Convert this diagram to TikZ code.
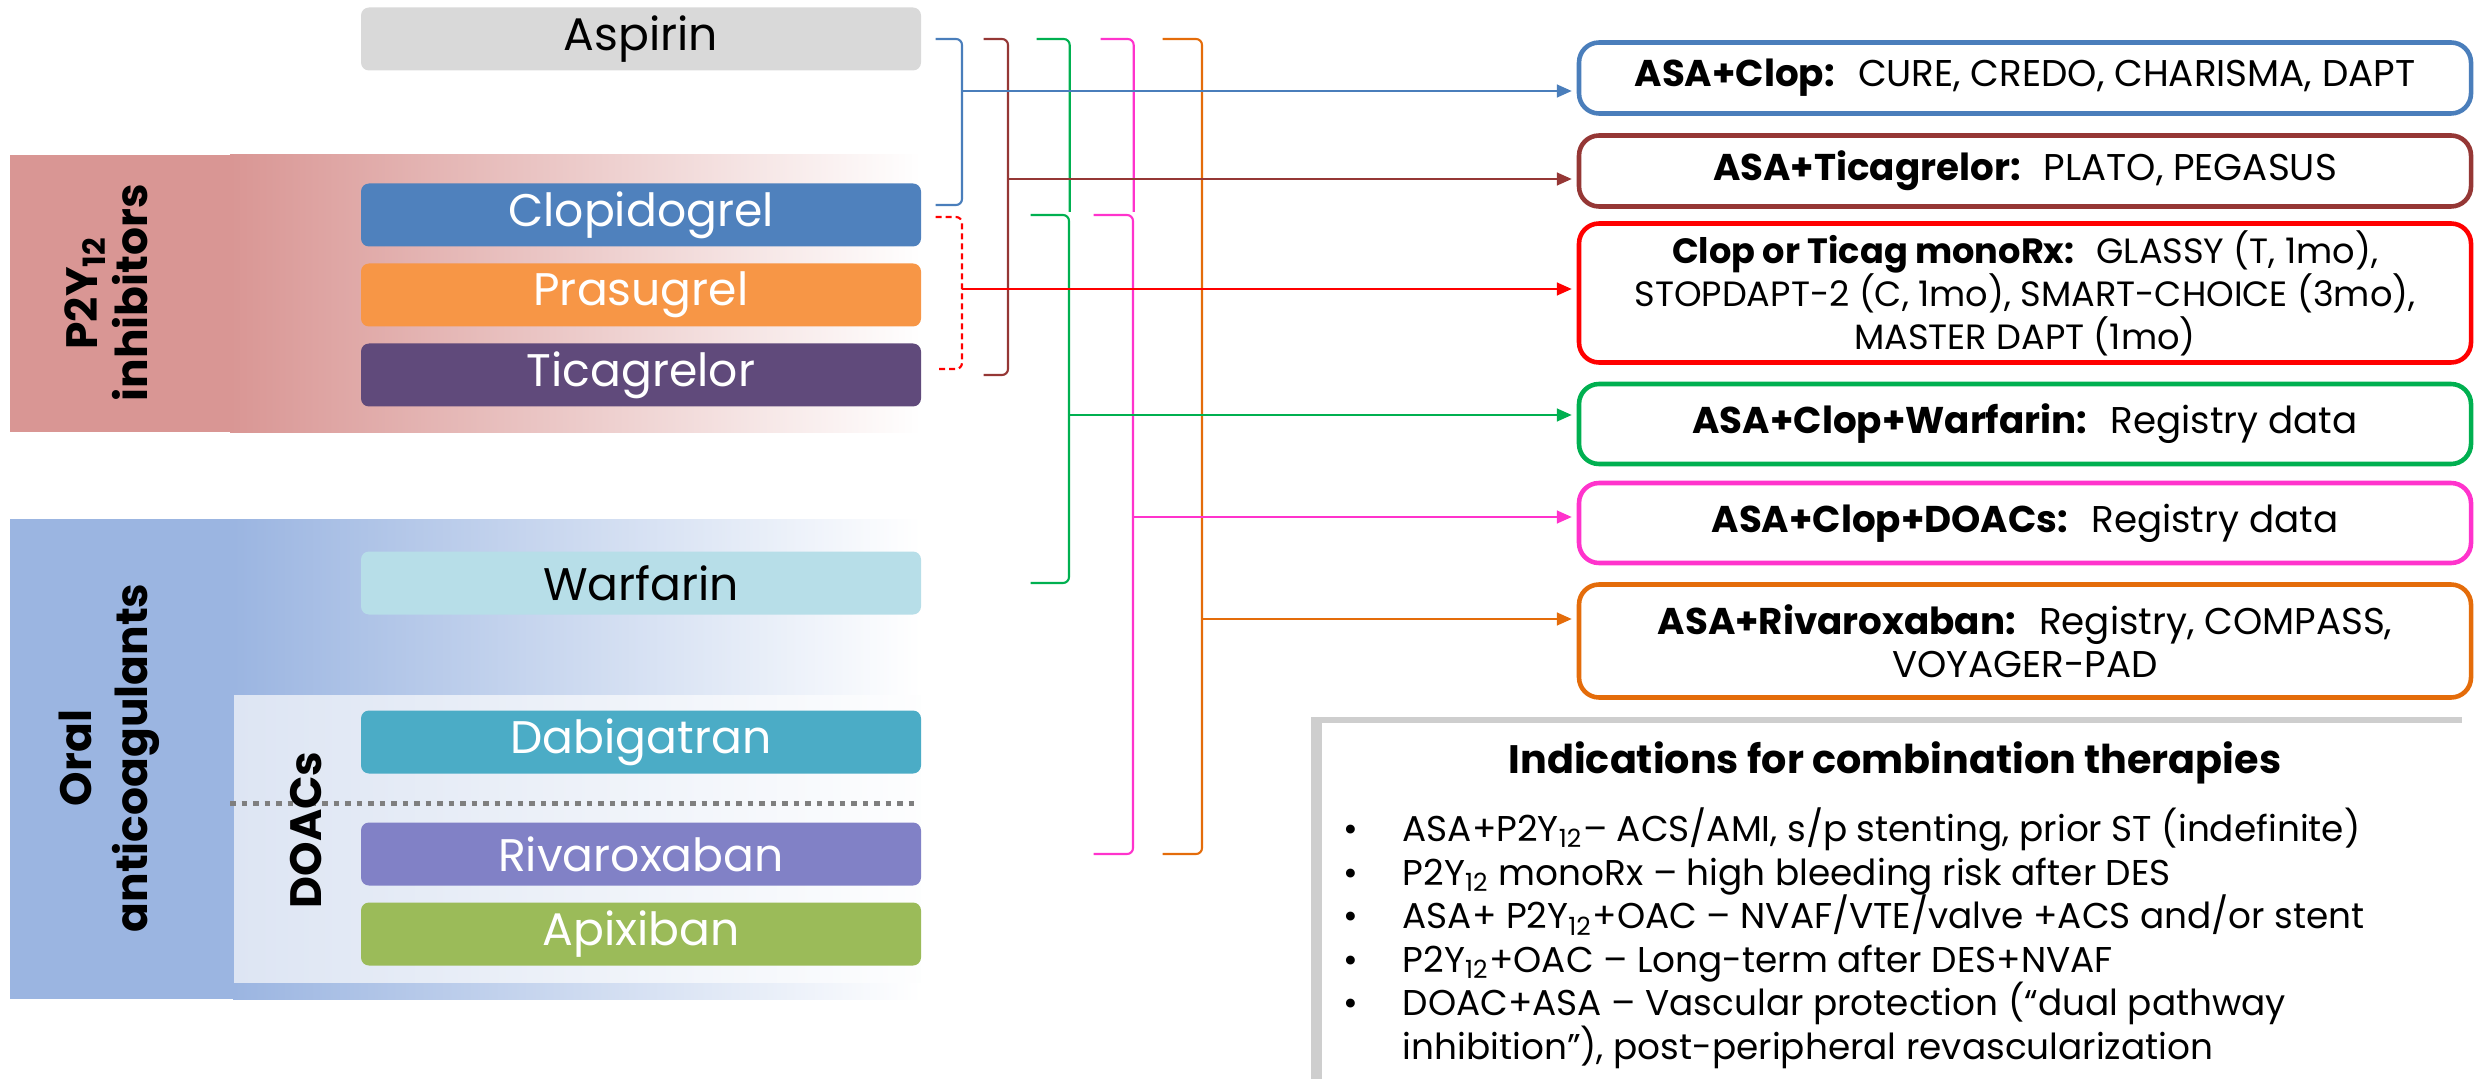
\documentclass[tikz,border=0pt]{standalone}
\usepackage{fontspec}
\setmainfont{Poppins}
\usetikzlibrary{arrows.meta,shadows}

\definecolor{aspc}{HTML}{D9D9D9}
\definecolor{cloc}{HTML}{4F81BD}
\definecolor{prac}{HTML}{F79646}
\definecolor{ticc}{HTML}{604A7B}
\definecolor{warc}{HTML}{B7DEE8}
\definecolor{dabc}{HTML}{4BACC6}
\definecolor{rivc}{HTML}{8181C6}
\definecolor{apic}{HTML}{9BBB59}
\definecolor{p2yband}{HTML}{D99694}
\definecolor{oacband}{HTML}{9BB5E1}
\definecolor{doacband}{HTML}{DDE5F3}
\definecolor{dotgrey}{HTML}{7F7F7F}
\definecolor{cblue}{HTML}{4A7EBB}
\definecolor{cbrown}{HTML}{953735}
\definecolor{cred}{HTML}{FF0000}
\definecolor{cgreen}{HTML}{00B050}
\definecolor{cpink}{HTML}{FF33CC}
\definecolor{corange}{HTML}{E46C0A}

\begin{document}
\begin{tikzpicture}[x=0.1mm, y=-0.1mm,
    drug/.style={rounded corners=0.8mm, minimum width=56mm, minimum height=6.3mm,
      inner sep=0pt, text=white, font=\fontsize{13}{15}\selectfont},
    res/.style={draw, line width=1.3pt, rounded corners=2mm, minimum width=89.2mm,
      inner sep=0pt, align=center, fill=white, font=\fontsize{10.6}{12.2}\selectfont},
    link/.style={line width=0.6pt, rounded corners=0.6mm},
    arr/.style={link, -{Triangle[length=4.2pt,width=3.6pt]}, shorten >=0.5mm},
    vlabel/.style={rotate=90, align=center, font=\fontsize{12.5}{16}\selectfont\bfseries},
    panel/.style={fill=white, drop shadow={shadow xshift=-1.1mm, shadow yshift=0.6mm,
      fill=black!35, opacity=0.55}}]
  \useasboundingbox (0,0) rectangle (2481,1079);

  % Faixas de fundo
  \fill[p2yband] (10,155) rectangle (232,432);
  \shade[left color=p2yband, right color=white] (230,155) rectangle (921,432);
  \fill[oacband] (10,519) rectangle (235,999);
  \shade[left color=oacband, right color=white] (233,519) rectangle (921,999);
  \shade[left color=doacband, right color=white!95!doacband] (234,695) rectangle (921,982);
  \draw[dotgrey, line width=0.5mm, dash pattern=on 0.55mm off 0.6mm] (230,803) -- (918,803);

  \node[vlabel, font=\fontsize{12.5}{14.3}\selectfont\bfseries] (p2y) at (106,293) {P2Y\textsubscript{12}\\inhibitors};
  \node[vlabel] (oac) at (109,758) {Oral\\anticoagulants};
  \node[vlabel] (doac) at (306,830) {DOACs};

  % Farmacos
  \node[drug, fill=aspc, text=black] (asp) at (641,39)  {Aspirin};
  \node[drug, fill=cloc]             (clo) at (641,215) {Clopidogrel};
  \node[drug, fill=prac]             (pra) at (641,295) {Prasugrel};
  \node[drug, fill=ticc]             (tic) at (641,375) {Ticagrelor};
  \node[drug, fill=warc, text=black] (war) at (641,583) {Warfarin};
  \node[drug, fill=dabc]             (dab) at (641,742) {Dabigatran};
  \node[drug, fill=rivc]             (riv) at (641,854) {Rivaroxaban};
  \node[drug, fill=apic]             (api) at (641,934) {Apixiban};

  % Combinacoes
  \node[res, draw=cblue,   minimum height=7.1mm]  (cr1) at (2025,78)  {\textbf{ASA+Clop:}~ CURE, CREDO, CHARISMA, DAPT};
  \node[res, draw=cbrown,  minimum height=7.1mm]  (cr2) at (2025,171) {\textbf{ASA+Ticagrelor:}~ PLATO, PEGASUS};
  \node[res, draw=cred,    minimum height=13.9mm, font=\fontsize{10}{12.2}\selectfont] (cr3) at (2025,293) {\textbf{Clop or Ticag monoRx:}~ GLASSY (T, 1mo),\\STOPDAPT-2 (C, 1mo), SMART-CHOICE (3mo),\\MASTER DAPT (1mo)};
  \node[res, draw=cgreen,  minimum height=8mm]    (cr4) at (2025,424) {\textbf{ASA+Clop+Warfarin:}~ Registry data};
  \node[res, draw=cpink,   minimum height=8mm]    (cr5) at (2025,523) {\textbf{ASA+Clop+DOACs:}~ Registry data};
  \node[res, draw=corange, minimum height=11.3mm] (cr6) at (2025,641) {\textbf{ASA+Rivaroxaban:}~ Registry, COMPASS,\\VOYAGER-PAD};

  % Chaves
  \coordinate (sB)  at (962,91);
  \coordinate (sBr) at (1008,179);
  \coordinate (sR)  at (962,289);
  \coordinate (sG)  at (1069,415);
  \coordinate (sP)  at (1133,517);
  \coordinate (sO)  at (1202,619);

  \draw[link, cblue] ([xshift=1.4mm]asp.east) -| (sB) |- ([shift={(1.4mm,1mm)}]clo.east);
  \draw[link, cbrown] ([xshift=6.2mm]asp.east) -| (sBr) |- ([xshift=6.2mm]tic.east);
  \draw[link, cred, dash pattern=on 0.6mm off 0.4mm] ([shift={(1.4mm,-0.2mm)}]clo.east) -| (sR) |- ([shift={(1.4mm,0.6mm)}]tic.east);
  \draw[link, cgreen] ([xshift=11.5mm]asp.east) -| ([shift={(14.8mm,0.3mm)}]clo.east);
  \draw[link, cgreen] ([xshift=10.9mm]clo.east) -| (sG) |- ([xshift=10.9mm]war.east);
  \draw[link, cpink] ([xshift=17.9mm]asp.east) -| ([shift={(21.2mm,0.3mm)}]clo.east);
  \draw[link, cpink] ([xshift=17.2mm]clo.east) -| (sP) |- ([xshift=17.2mm]riv.east);
  \draw[link, corange] ([xshift=24.1mm]asp.east) -| (sO) |- ([xshift=24.1mm]riv.east);

  % Setas
  \draw[arr, cblue]   (sB)  -- (sB -| cr1.west);
  \draw[arr, cbrown]  (sBr) -- (sBr -| cr2.west);
  \draw[arr, cred]    (sR)  -- (sR -| cr3.west);
  \draw[arr, cgreen]  (sG)  -- (sG -| cr4.west);
  \draw[arr, cpink]   (sP)  -- (sP -| cr5.west);
  \draw[arr, corange] (sO)  -- (sO -| cr6.west);

  % Indicacoes
  \node[panel, anchor=north west, minimum width=115.1mm, minimum height=37mm, inner sep=0pt] (ind) at (1321,722) {};
  \node[font=\fontsize{11.3}{14}\selectfont\bfseries] (indt) at (1895,763) {Indications for combination therapies};
  \node[anchor=north west, align=left, inner sep=0pt, font=\fontsize{10.2}{12.4}\selectfont] (indl) at (1343,807)
    {\makebox[5.9mm][l]{\textbullet}ASA+P2Y\textsubscript{12}– ACS/AMI, s/p stenting, prior ST (indefinite)\\
     \makebox[5.9mm][l]{\textbullet}P2Y\textsubscript{12} monoRx – high bleeding risk after DES\\
     \makebox[5.9mm][l]{\textbullet}ASA+ P2Y\textsubscript{12}+OAC – NVAF/VTE/valve +ACS and/or stent\\
     \makebox[5.9mm][l]{\textbullet}P2Y\textsubscript{12}+OAC – Long-term after DES+NVAF\\
     \makebox[5.9mm][l]{\textbullet}DOAC+ASA – Vascular protection (“dual pathway\\
     \hspace*{5.9mm}inhibition”), post-peripheral revascularization};
\end{tikzpicture}
\end{document}
